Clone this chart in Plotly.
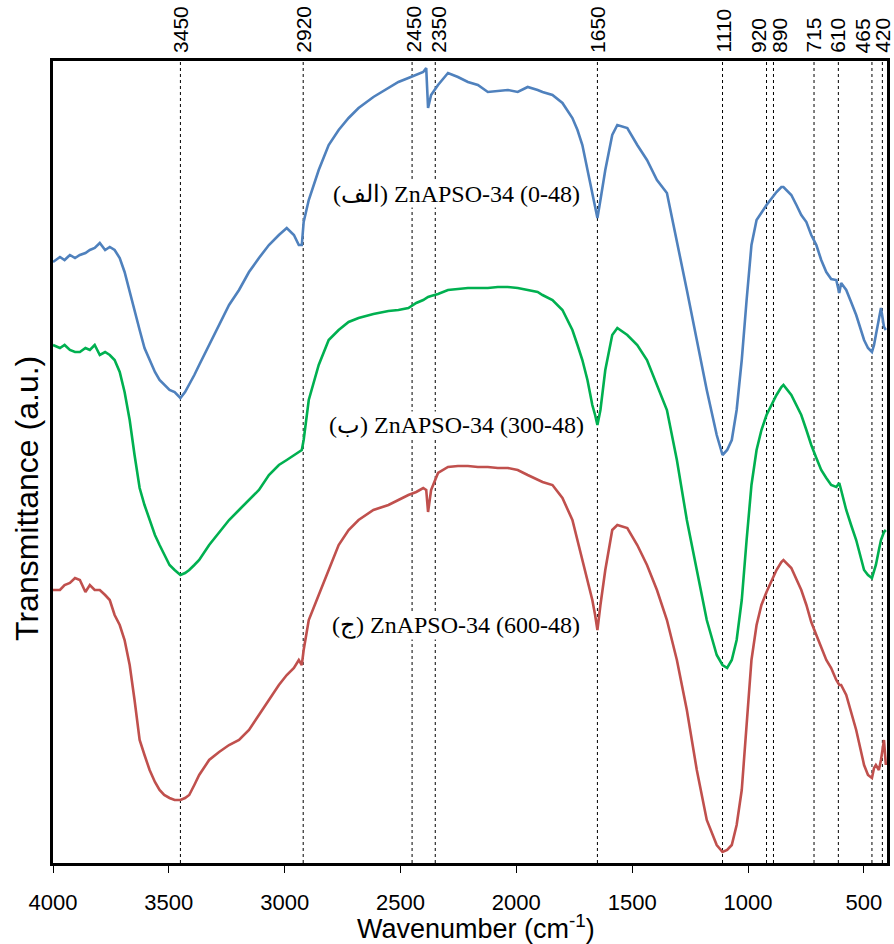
import plotly.graph_objects as go

# ---------------- data ----------------
wavenumber = [4000, 3970, 3950, 3927, 3905, 3884, 3860, 3841, 3820, 3798,
              3775, 3755, 3734, 3712, 3691, 3669, 3648, 3626, 3605, 3583,
              3560, 3540, 3520, 3497, 3475, 3450, 3430, 3412, 3390, 3369,
              3326, 3283, 3240, 3197, 3154, 3111, 3068, 3025, 2991, 2960,
              2939, 2926, 2918, 2896, 2853, 2810, 2767, 2724, 2681, 2617,
              2552, 2509, 2466, 2432, 2402, 2389, 2381, 2368, 2338, 2295,
              2252, 2209, 2166, 2123, 2080, 2037, 1994, 1951, 1908, 1887,
              1844, 1801, 1758, 1736, 1715, 1693, 1672, 1660, 1650, 1637,
              1616, 1586, 1564, 1521, 1478, 1436, 1393, 1350, 1307, 1264,
              1221, 1178, 1135, 1110, 1090, 1070, 1049, 1027, 1006, 985,
              963, 942, 920, 877, 856, 847, 813, 791, 770, 748,
              727, 705, 684, 662, 641, 619, 606, 598, 576, 555,
              533, 499, 482, 465, 456, 448, 435, 426, 413, 405]

t_0_48 = [608, 613, 610, 615, 612, 615, 617, 620, 622, 627,
          620, 623, 620, 612, 598, 578, 558, 540, 522, 510,
          498, 490, 485, 480, 478, 472, 478, 485, 495, 505,
          525, 545, 565, 580, 598, 612, 625, 635, 642, 635,
          625, 625, 648, 670, 700, 725, 740, 752, 762, 773,
          782, 788, 792, 795, 798, 802, 762, 775, 785, 797,
          793, 788, 785, 778, 779, 780, 778, 783, 780, 778,
          775, 767, 752, 740, 725, 700, 675, 662, 652, 670,
          700, 735, 745, 742, 725, 710, 690, 677, 630, 580,
          530, 480, 435, 415, 420, 430, 460, 510, 570, 625,
          650, 658, 665, 678, 683, 683, 675, 665, 655, 648,
          635, 625, 610, 598, 591, 590, 577, 587, 580, 568,
          555, 530, 522, 518, 525, 535, 552, 562, 543, 540]

t_300_48 = [525, 522, 525, 520, 518, 518, 522, 520, 525, 515,
            518, 515, 510, 498, 478, 450, 415, 382, 365, 350,
            335, 325, 315, 305, 300, 295, 297, 300, 305, 310,
            325, 338, 350, 360, 370, 380, 395, 405, 410, 415,
            418, 420, 430, 470, 505, 530, 540, 548, 552, 556,
            559, 560, 562, 567, 570, 572, 573, 574, 576, 580,
            581, 582, 582, 582, 583, 583, 582, 580, 578, 575,
            570, 560, 540, 525, 510, 490, 465, 455, 445, 460,
            500, 535, 542, 535, 525, 510, 485, 460, 410, 350,
            300, 250, 215, 205, 202, 210, 230, 270, 330, 385,
            420, 440, 455, 475, 483, 485, 475, 465, 455, 440,
            425, 412, 400, 392, 385, 383, 387, 380, 360, 345,
            330, 300, 295, 292, 298, 305, 320, 330, 338, 340]

t_600_48 = [280, 280, 285, 287, 292, 290, 278, 285, 280, 280,
            275, 270, 255, 245, 230, 205, 170, 130, 115, 100,
            88, 80, 75, 72, 70, 70, 72, 75, 85, 95,
            110, 118, 125, 130, 140, 155, 170, 185, 195, 202,
            210, 205, 220, 250, 275, 300, 325, 340, 350, 360,
            365, 370, 375, 378, 382, 380, 358, 380, 397, 403,
            404, 404, 403, 403, 402, 402, 400, 395, 390, 388,
            385, 372, 350, 330, 310, 290, 270, 255, 240, 265,
            300, 340, 345, 342, 325, 305, 280, 250, 210, 160,
            100, 50, 25, 18, 20, 25, 45, 80, 150, 210,
            245, 265, 278, 300, 308, 310, 302, 290, 280, 265,
            248, 235, 222, 210, 202, 190, 185, 185, 175, 158,
            140, 105, 95, 92, 102, 105, 100, 110, 130, 105]

series_names = ["ZnAPSO-34 (0-48)", "ZnAPSO-34 (300-48)", "ZnAPSO-34 (600-48)"]
series_labels = ["(الف) ZnAPSO-34 (0-48)",
                 "(ب) ZnAPSO-34 (300-48)",
                 "(ج) ZnAPSO-34 (600-48)"]
label_x = [2260, 2260, 2260]
label_y = [676, 445, 245]

peak_positions = [3450, 2920, 2450, 2350, 1650, 1110, 920, 890, 715, 610, 465, 420]
peak_labels = ["3450", "2920", "2450", "2350", "1650", "1110", "920", "890", "715", "610", "465", "420"]
peak_label_shift = [0, 0, 1, 3, 0, 0, -8, 6, -1, -1, -9, 0]

x_ticks = [4000, 3500, 3000, 2500, 2000, 1500, 1000, 500]

colors = ["#4F81BD", "#00B050", "#C0504D"]

# ---------------- figure ----------------
fig = go.Figure()
for ys, name, c in zip([t_0_48, t_300_48, t_600_48], series_names, colors):
    fig.add_trace(go.Scatter(x=wavenumber, y=ys, mode="lines", name=name,
                             line=dict(color=c, width=2.6), showlegend=False))

for p in peak_positions:
    fig.add_shape(type="line", xref="x", yref="paper", x0=p, x1=p, y0=0, y1=1,
                  line=dict(color="black", width=1, dash="dot"), layer="below")

for p, lab, sh in zip(peak_positions, peak_labels, peak_label_shift):
    fig.add_annotation(x=p, xref="x", y=1, yref="paper", text=lab, showarrow=False,
                       textangle=-90, xanchor="center", yanchor="bottom", yshift=6,
                       xshift=sh, font=dict(family="Liberation Sans", size=21, color="black"))

for lx, ly, lab in zip(label_x, label_y, series_labels):
    fig.add_annotation(x=lx, y=ly, xref="x", yref="y", text=lab, showarrow=False,
                       bgcolor="white", borderpad=0,
                       font=dict(family="Liberation Serif", size=24, color="black"))

fig.add_annotation(x=0, xref="paper", y=0.454, yref="paper", text="Transmittance (a.u.)",
                   showarrow=False, textangle=-90, xanchor="center", yanchor="middle",
                   xshift=-26, font=dict(family="Liberation Sans", size=32, color="black"))
fig.add_annotation(x=0.5, xref="paper", y=0, yref="paper", text="Wavenumber (cm<sup>-1</sup>)",
                   showarrow=False, xanchor="center", yanchor="middle", yshift=-64, xshift=6,
                   font=dict(family="Liberation Sans", size=27, color="black"))

fig.update_layout(
    width=894, height=944,
    margin=dict(l=53, r=4, t=61, b=81),
    paper_bgcolor="white", plot_bgcolor="white",
    xaxis=dict(range=[4000, 400], tickvals=x_ticks, ticks="outside", ticklen=7,
               tickwidth=1, tickcolor="black", showgrid=False, zeroline=False,
               showline=True, linecolor="black", linewidth=2.5, mirror=True,
               ticklabelstandoff=11,
               tickfont=dict(family="Liberation Sans", size=22, color="black")),
    yaxis=dict(range=[7, 809], showticklabels=False, ticks="", showgrid=False,
               zeroline=False, showline=True, linecolor="black", linewidth=2.5, mirror=True),
)

fig.write_html("out.html", config={"displayModeBar": False},
               post_script="document.body.style.margin='0';document.body.style.overflow='hidden';"
                           "document.documentElement.style.overflow='hidden';")
